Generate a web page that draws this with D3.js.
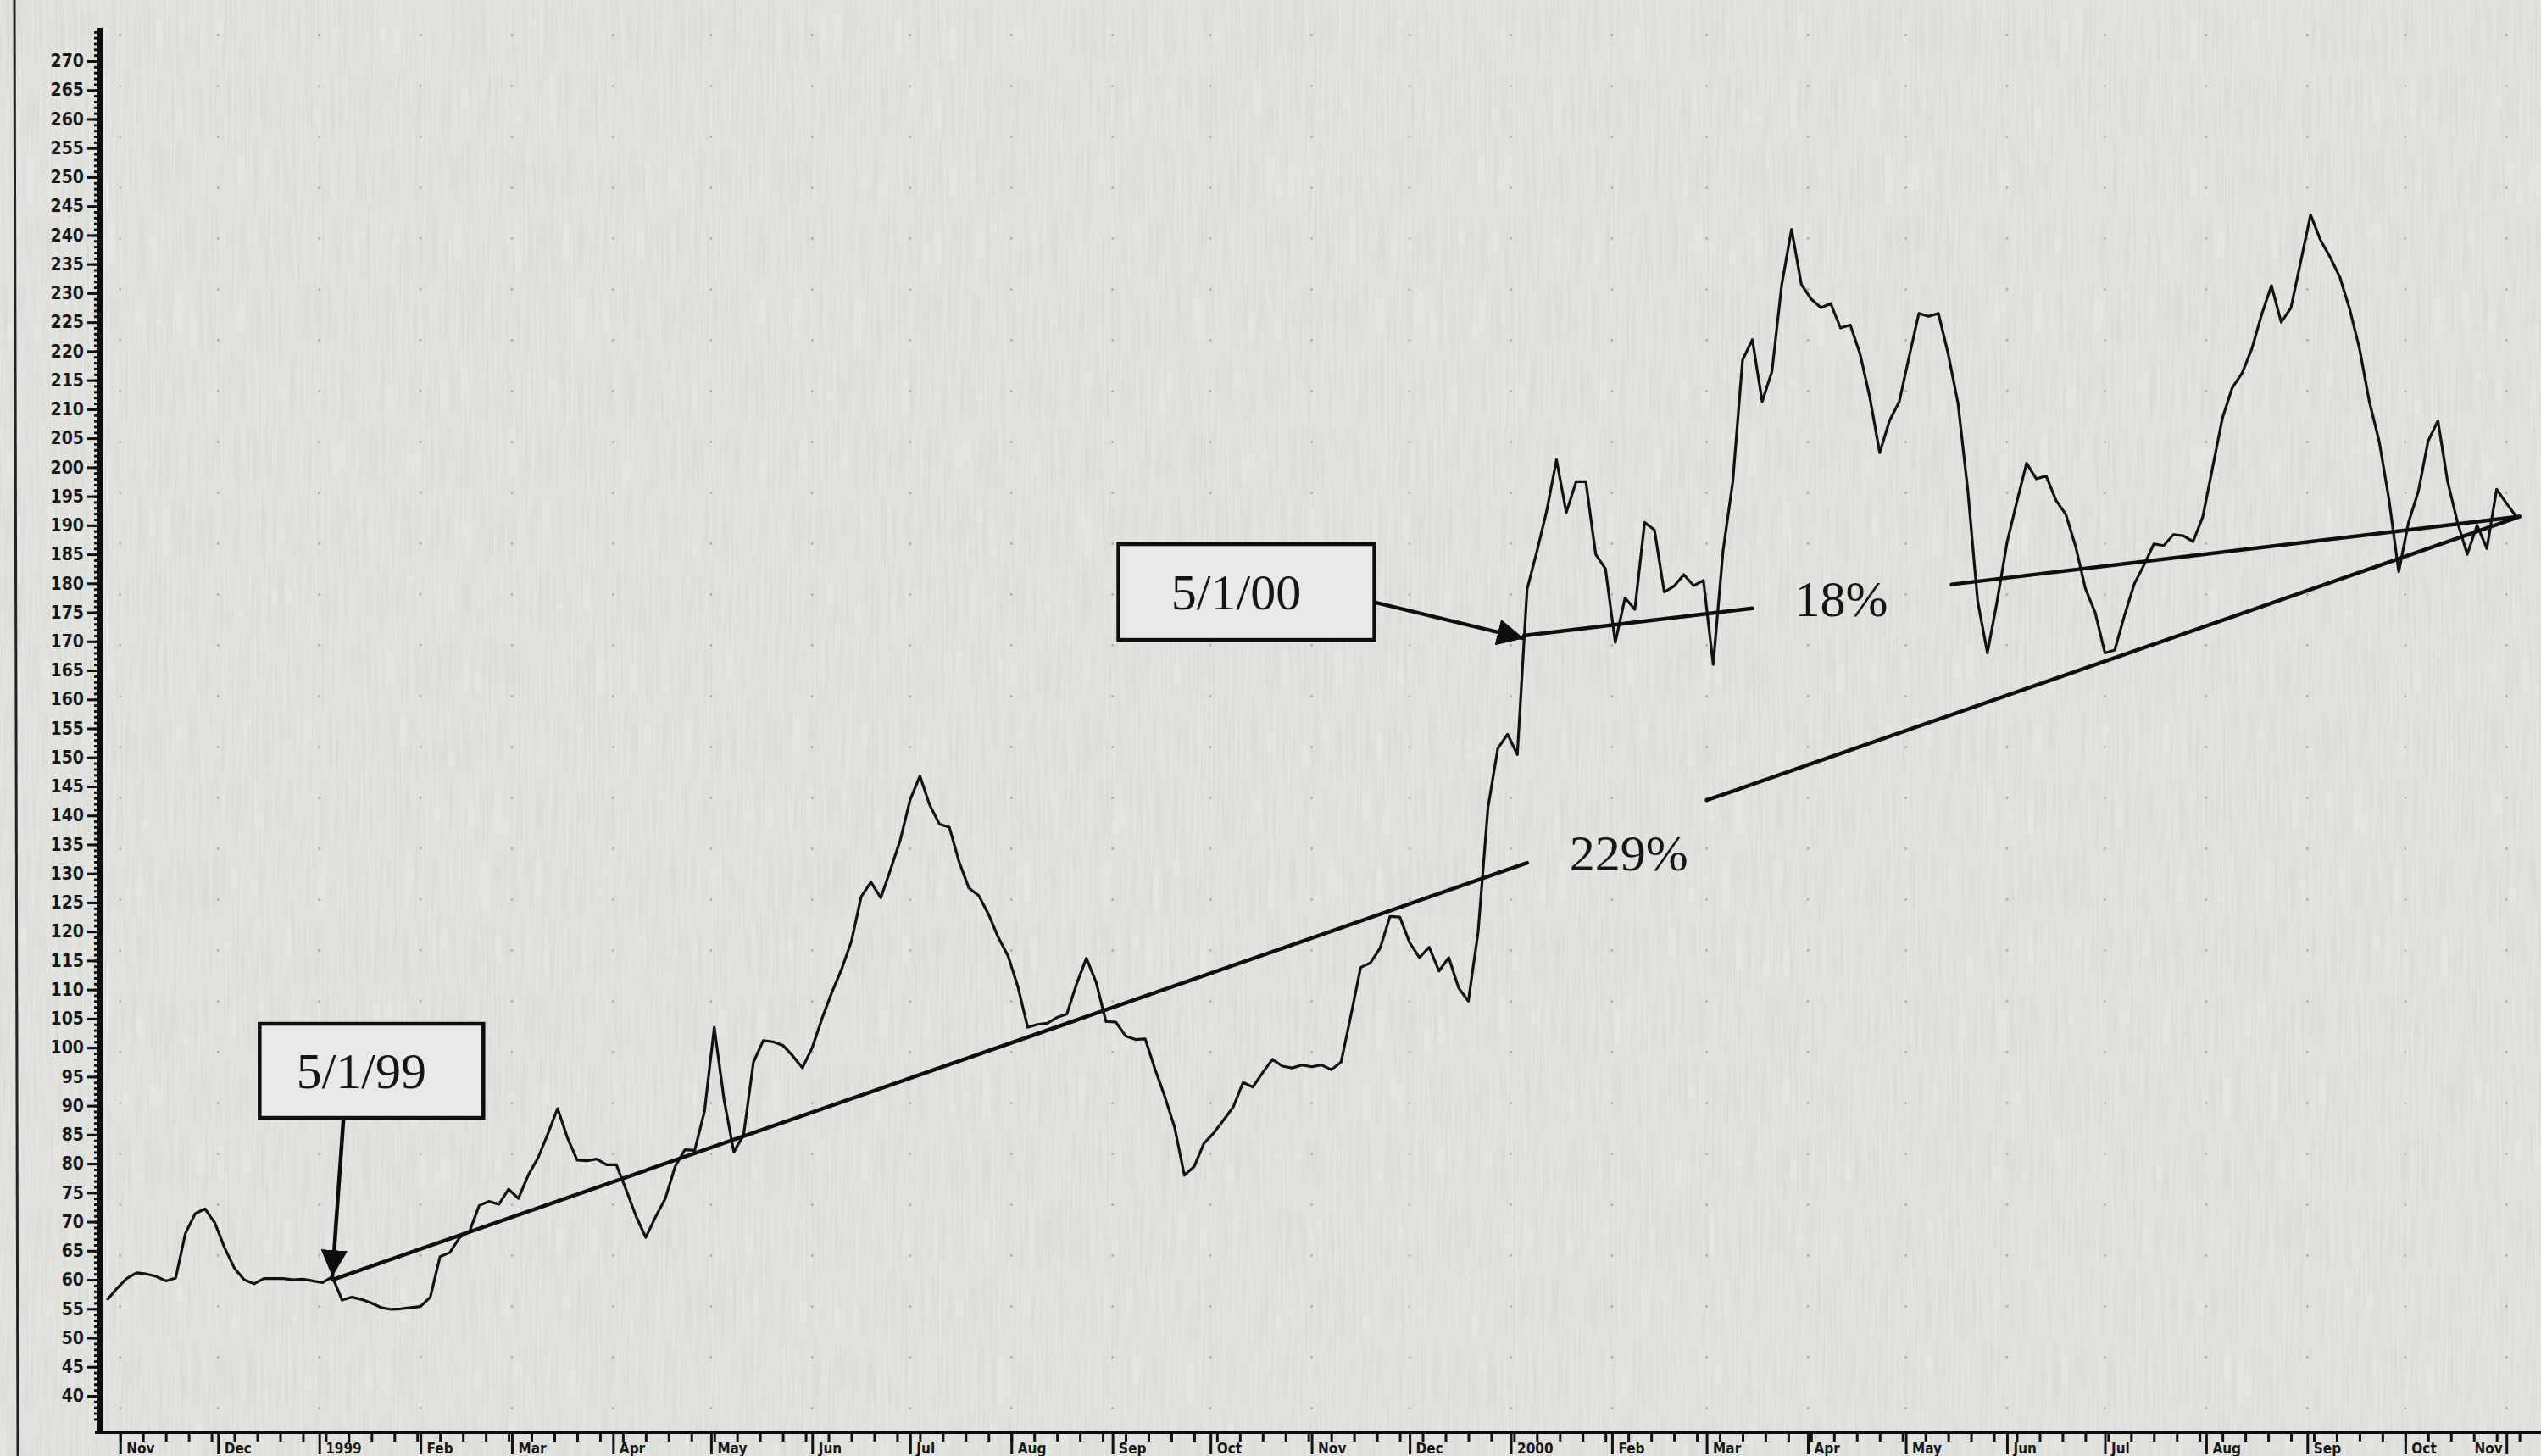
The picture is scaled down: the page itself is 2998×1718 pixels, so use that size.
<!DOCTYPE html>
<html>
<head>
<meta charset="utf-8">
<script src="https://cdn.jsdelivr.net/npm/d3@7"></script>
<style>
  html, body { margin: 0; padding: 0; background: #e5e5e2; overflow: hidden; }
  svg { display: block; }
</style>
</head>
<body>
<div id="chart"></div>
<script>
// ---- data ----
// one close every 3 calendar days, first reading 28 Oct 1998
const seriesStart = "1998-10-28";
const stepDays = 3;
const closes = [
  56.5, 58.5, 60.2, 61.2, 61, 60.6, 59.8, 60.3, 68, 71.4,
  72.2, 69.8, 65.5, 62, 60, 59.3, 60.2, 60.2, 60.2, 60,
  60.1, 59.8, 59.5, 60.5, 56.5, 57, 56.6, 56, 55.2, 54.9,
  55, 55.2, 55.4, 57, 64, 64.7, 67.3, 68.3, 72.8, 73.5,
  73, 75.6, 74, 78, 81, 85.1, 89.5, 84.5, 80.6, 80.5,
  80.8, 79.8, 79.8, 75.5, 71, 67.3, 70.8, 74, 79.5, 82.4,
  82.3, 89, 103.5, 91, 82, 85, 97.5, 101.2, 101, 100.4,
  98.6, 96.5, 100, 105, 109.5, 113.5, 118.3, 126, 128.5, 125.8,
  130.7, 135.8, 142.7, 146.8, 141.8, 138.5, 138, 132, 127.5, 126.2,
  123, 119, 115.8, 110.5, 103.5, 104, 104.2, 105.2, 105.8, 111,
  115.4, 111.2, 104.5, 104.4, 102, 101.4, 101.5, 96.3, 91.6, 86.3,
  78, 79.5, 83.5, 85.3, 87.5, 89.8, 94, 93.2, 95.7, 98,
  96.8, 96.5, 97, 96.7, 97, 96.2, 97.5, 105.5, 113.8, 114.6,
  117.2, 122.6, 122.5, 118.1, 115.5, 117.3, 113.2, 115.5, 110.3, 108,
  120, 141.3, 151.5, 154, 150.5, 179, 185.5, 192.5, 201.3, 192.2,
  197.5, 197.5, 185, 182.5, 169.8, 177.5, 175.5, 190.5, 189.2, 178.5,
  179.5, 181.5, 179.6, 180.5, 166, 185.5, 197.5, 218.5, 222, 211.3,
  216.5, 231.5, 241, 231.5, 229, 227.5, 228.2, 224, 224.5, 219.5,
  212, 202.5, 208, 211.3, 219, 226.5, 226, 226.5, 219.5, 211,
  196, 177, 168, 177, 187, 194, 200.7, 198, 198.5, 194.3,
  191.9, 186.4, 179.1, 175, 168, 168.5, 174.5, 179.9, 183.2, 186.8,
  186.5, 188.4, 188.2, 187.2, 191.5, 200, 208.5, 213.7, 216.2, 220.4,
  226.3, 231.3, 225, 227.5, 235.5, 243.5, 239.2, 236.2, 232.7, 227.2,
  220.4, 211.3, 204.5, 194.5, 182, 190.5, 195.8, 204.5, 208, 197.5,
  190.5, 185, 190, 186, 196.2, 193.8, 191.5
];

// y axis labels, every 5 from 40 to 270
const yTickValues = d3.range(40, 275, 5);

// trend lines drawn on the chart (the gap leaves room for the % label)
const trendLines = [
  { label: "229%", from: ["1999-01-05", 60], to: ["2000-11-05", 191.5],
    gap: ["2000-01-06", "2000-03-01"], labelAt: ["2000-01-19", 130.5] },
  { label: "18%", from: ["2000-01-05", 171], to: ["2000-11-05", 191.5],
    gap: ["2000-03-15", "2000-05-15"], labelAt: ["2000-03-28", 174.4] }
];

// boxed date call-outs with an arrow to the line
const callouts = [
  { text: "5/1/99", tip: ["1999-01-05", 60.5], box: ["1999-01-17", 96], w: 264, h: 111, from: "bottom" },
  { text: "5/1/00", tip: ["2000-01-05", 170.5], box: ["1999-10-12", 178.5], w: 302, h: 113, from: "right" }
];

// ---- chart ----
const width = 2998, height = 1718;
const parse = d3.timeParse("%Y-%m-%d");

const data = closes.map((v, i) => ({
  date: d3.timeDay.offset(parse(seriesStart), i * stepDays),
  value: v
}));

const x = d3.scaleTime()
  .domain([new Date(1998, 9, 25, 20), new Date(2000, 10, 11, 14)])
  .range([118, width]);

const y = d3.scaleLinear()
  .domain([40, 270])
  .range([1647, 72]);

const axisY = 1690;

const svg = d3.select("#chart").append("svg")
  .attr("width", width)
  .attr("height", height);

// paper grain of the scan
const defs = svg.append("defs");
const grain = defs.append("filter").attr("id", "grain")
  .attr("x", 0).attr("y", 0).attr("width", "100%").attr("height", "100%");
grain.append("feTurbulence")
  .attr("type", "fractalNoise")
  .attr("baseFrequency", "0.35 0.012")
  .attr("numOctaves", 3)
  .attr("seed", 7);
grain.append("feColorMatrix")
  .attr("type", "matrix")
  .attr("values", "0 0 0 0 0.45  0 0 0 0 0.45  0 0 0 0 0.44  0 0 0 -1.1 0.75");

svg.append("rect")
  .attr("width", width).attr("height", height)
  .attr("fill", "#e4e4e1");
svg.append("rect")
  .attr("width", width).attr("height", height)
  .attr("filter", "url(#grain)")
  .attr("opacity", 0.35);

// page edge on the left
svg.append("line")
  .attr("x1", 17).attr("x2", 21)
  .attr("y1", 0).attr("y2", height)
  .attr("stroke", "#222").attr("stroke-width", 3);

// faint dotted month grid
svg.append("g")
  .selectAll("line")
  .data(x.ticks(d3.timeMonth))
  .join("line")
  .attr("x1", d => x(d)).attr("x2", d => x(d))
  .attr("y1", 40).attr("y2", axisY - 10)
  .attr("stroke", "#8a8a8a")
  .attr("stroke-width", 2.5)
  .attr("stroke-dasharray", "3 57")
  .attr("opacity", 0.55);

// y axis
const yMinor = svg.append("g")
  .attr("transform", "translate(118,0)")
  .call(d3.axisLeft(y).tickValues(d3.range(36, 276, 1)).tickSize(7).tickFormat(""));

const yAxis = svg.append("g")
  .attr("transform", "translate(118,0)")
  .call(d3.axisLeft(y).tickValues(yTickValues).tickSize(15).tickPadding(4).tickFormat(d3.format("d")));

[yMinor, yAxis].forEach(g => {
  g.select(".domain").remove();
  g.selectAll(".tick line").attr("stroke", "#111").attr("stroke-width", 3);
});
yAxis.selectAll("text")
  .attr("fill", "#161616")
  .style("font-family", "'DejaVu Sans Condensed', 'DejaVu Sans', sans-serif")
  .style("font-weight", "bold")
  .style("font-size", "21px");

svg.append("line")
  .attr("x1", 118).attr("x2", 118)
  .attr("y1", 33).attr("y2", axisY)
  .attr("stroke", "#0c0c0c").attr("stroke-width", 6);

// x axis
const xMinor = svg.append("g")
  .attr("transform", `translate(0,${axisY})`)
  .call(d3.axisBottom(x).ticks(d3.timeWeek).tickSize(11).tickFormat(""));

const xAxis = svg.append("g")
  .attr("transform", `translate(0,${axisY})`)
  .call(d3.axisBottom(x).ticks(d3.timeMonth).tickSize(26).tickPadding(0)
    .tickFormat(d => d.getMonth() === 0 ? d3.timeFormat("%Y")(d) : d3.timeFormat("%b")(d)));

[xMinor, xAxis].forEach(g => {
  g.select(".domain").remove();
  g.selectAll(".tick line").attr("stroke", "#111").attr("stroke-width", 3);
});
// labels sit low, right of each month tick, as on the scan
xAxis.selectAll("text")
  .attr("fill", "#161616")
  .attr("text-anchor", "start")
  .attr("x", 7)
  .attr("y", 25)
  .attr("dy", 0)
  .style("font-family", "'DejaVu Sans Condensed', 'DejaVu Sans', sans-serif")
  .style("font-weight", "bold")
  .style("font-size", "17px");
// the last label would run off the page edge
xAxis.selectAll(".tick text")
  .filter(function () { return this.parentNode.getBoundingClientRect().x + 60 > width; })
  .attr("text-anchor", "end")
  .attr("x", -5);

svg.append("line")
  .attr("x1", 112).attr("x2", width)
  .attr("y1", axisY).attr("y2", axisY)
  .attr("stroke", "#0c0c0c").attr("stroke-width", 4);

// price line
const line = d3.line()
  .x(d => x(d.date))
  .y(d => y(d.value));

svg.append("path")
  .datum(data)
  .attr("d", line)
  .attr("fill", "none")
  .attr("stroke", "#121212")
  .attr("stroke-width", 3.2)
  .attr("stroke-linejoin", "round");

// trend lines with their percentage labels
const serif = "'Liberation Serif', 'DejaVu Serif', serif";

trendLines.forEach(t => {
  const t0 = parse(t.from[0]), t1 = parse(t.to[0]);
  const at = d => t.from[1] + (t.to[1] - t.from[1]) * (d - t0) / (t1 - t0);
  const g0 = parse(t.gap[0]), g1 = parse(t.gap[1]);
  [[t0, g0], [g1, t1]].forEach(([a, b]) => {
    svg.append("line")
      .attr("x1", x(a)).attr("y1", y(at(a)))
      .attr("x2", x(b)).attr("y2", y(at(b)))
      .attr("stroke", "#0e0e0e")
      .attr("stroke-width", 4.5)
      .attr("stroke-linecap", "round");
  });
  svg.append("text")
    .attr("x", x(parse(t.labelAt[0])))
    .attr("y", y(t.labelAt[1]))
    .attr("fill", "#151515")
    .style("font-family", serif)
    .style("font-size", "60px")
    .text(t.label);
});

// boxed call-outs
defs.append("marker")
  .attr("id", "head")
  .attr("viewBox", "0 0 10 10")
  .attr("refX", 10).attr("refY", 5)
  .attr("markerWidth", 7).attr("markerHeight", 7)
  .attr("markerUnits", "strokeWidth")
  .attr("orient", "auto")
  .append("path")
  .attr("d", "M0,0 L10,5 L0,10 Z")
  .attr("fill", "#0e0e0e");

callouts.forEach(c => {
  const cx = x(parse(c.box[0])), cy = y(c.box[1]);
  const tx = x(parse(c.tip[0])), ty = y(c.tip[1]);
  let sx, sy;
  if (c.from === "bottom") { sx = cx - 33; sy = cy + c.h / 2; }
  else { sx = cx + c.w / 2; sy = cy + 12; }

  svg.append("line")
    .attr("x1", sx).attr("y1", sy)
    .attr("x2", tx).attr("y2", ty)
    .attr("stroke", "#0e0e0e")
    .attr("stroke-width", 4.5)
    .attr("marker-end", "url(#head)");

  svg.append("rect")
    .attr("x", cx - c.w / 2).attr("y", cy - c.h / 2)
    .attr("width", c.w).attr("height", c.h)
    .attr("fill", "#e8e8e6")
    .attr("stroke", "#0e0e0e")
    .attr("stroke-width", 4.5);

  svg.append("text")
    .attr("x", cx - 12).attr("y", cy + 20)
    .attr("text-anchor", "middle")
    .attr("fill", "#151515")
    .style("font-family", serif)
    .style("font-size", "60px")
    .text(c.text);
});
</script>
</body>
</html>
